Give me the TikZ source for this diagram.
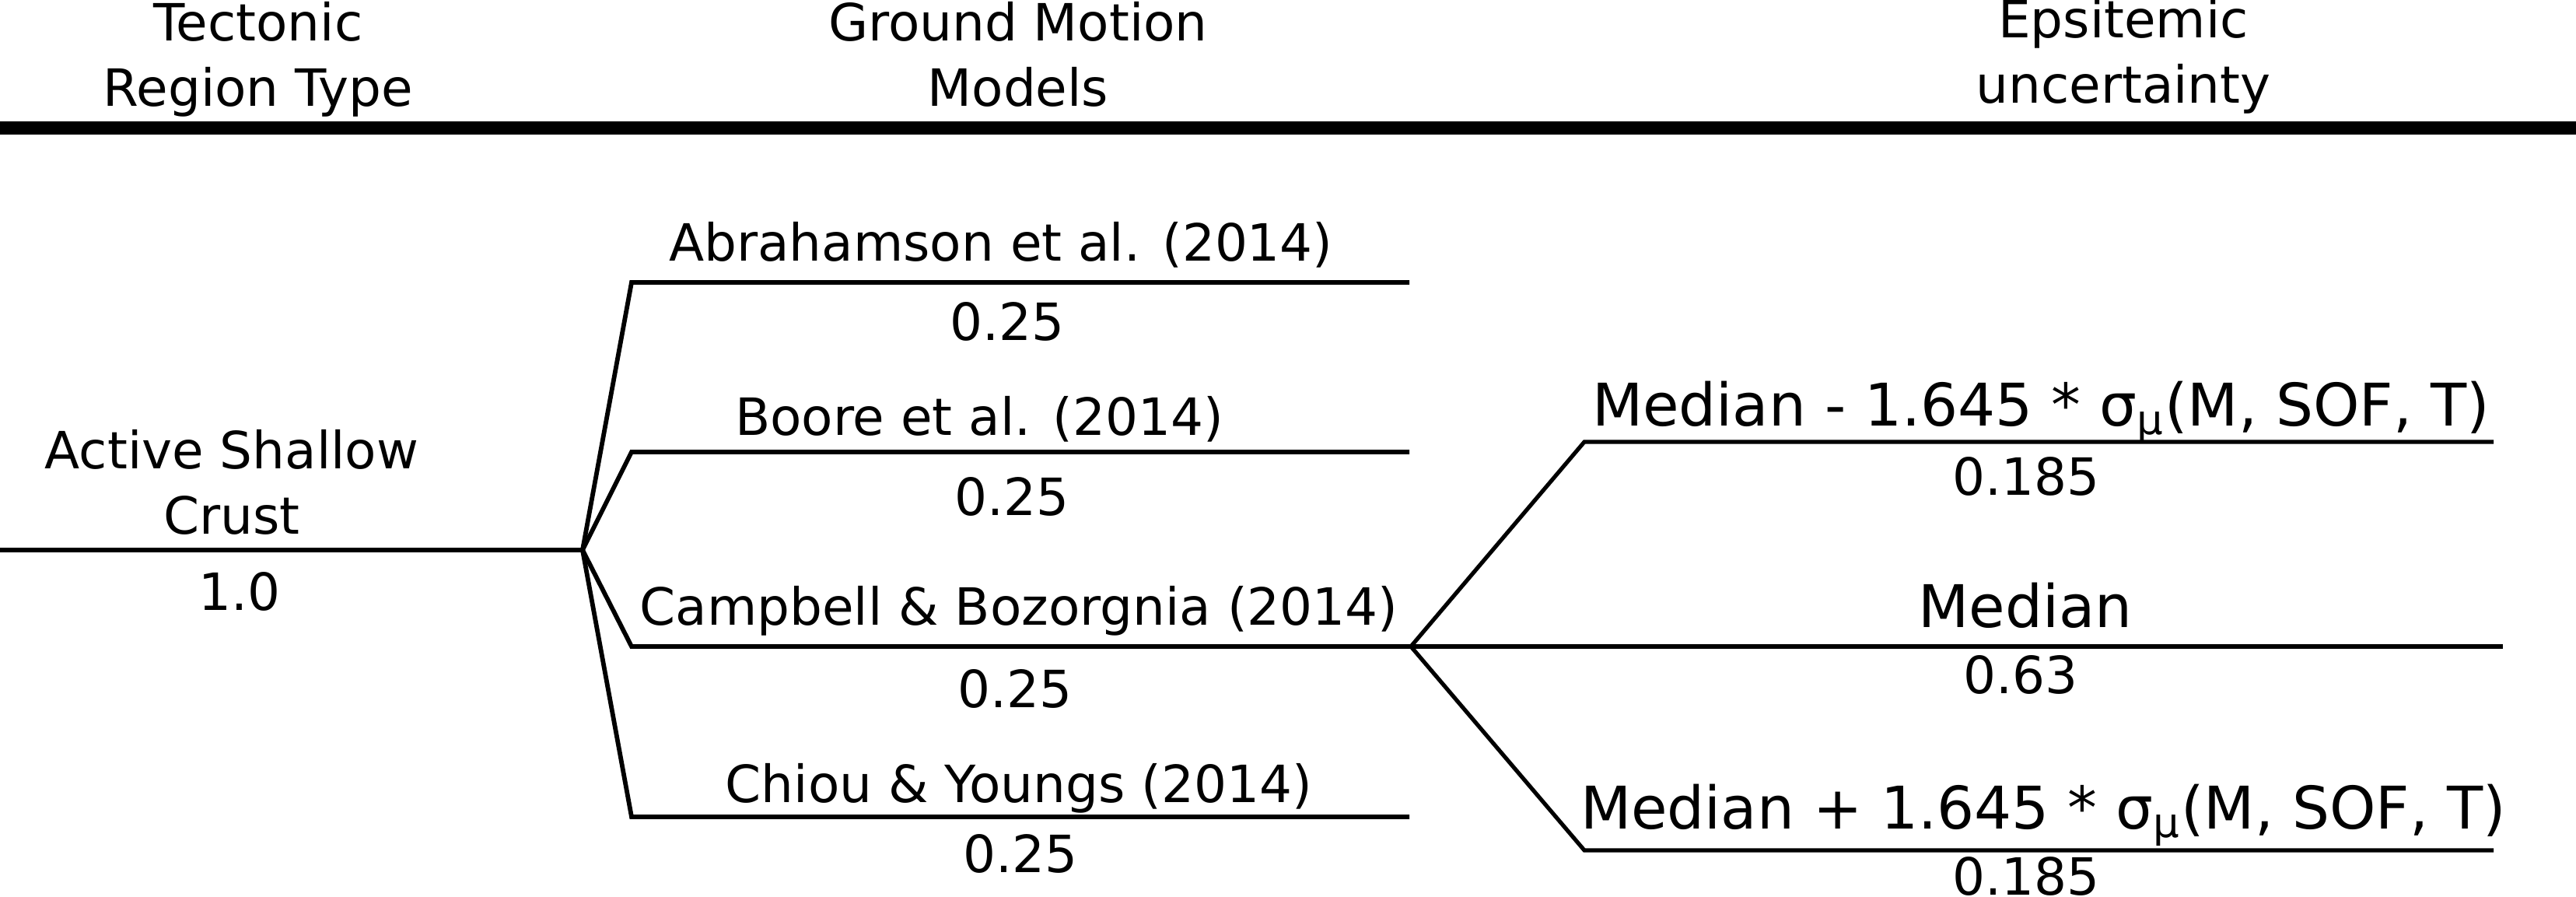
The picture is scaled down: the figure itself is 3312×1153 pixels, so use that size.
\documentclass[tikz,border=0pt]{standalone}
\usepackage{fontspec}
\setmainfont{DejaVu Sans}
\begin{document}
\begin{tikzpicture}[x=0.25pt,y=-0.25pt,
  branch/.style={line width=1.45pt, line join=miter},
  thinbranch/.style={line width=1.3pt, line join=miter},
  rulebar/.style={line width=4.25pt},
  lbl/.style={anchor=base, inner sep=0pt, font=\fontsize{16.5}{21}\selectfont, align=center},
  biglbl/.style={anchor=base, inner sep=0pt, font=\fontsize{18.9}{22}\selectfont},
]
\useasboundingbox (0,0) rectangle (3312,1153);

% header (base anchor = baseline of the last line)
\node[lbl] (h1) at (332,137) {Tectonic\\Region Type};
\node[lbl] (h2) at (1309,137) {Ground Motion\\Models};
\node[lbl] (h3) at (2730,133) {Epsitemic\\uncertainty};
\coordinate (hl) at (0,165);
\coordinate (hr) at (3312,165);
\draw[rulebar] (hl) -- (hr);

% tree coordinates
\coordinate (root) at (0,707);
\coordinate (b1) at (749,707);
\coordinate (g1s) at (812,363);  \coordinate (g1e) at (1812,363);
\coordinate (g2s) at (812,581);  \coordinate (g2e) at (1812,581);
\coordinate (g3s) at (812,831);  \coordinate (b2) at (1814,831);
\coordinate (g4s) at (812,1050); \coordinate (g4e) at (1812,1050);
\coordinate (e1s) at (2037,568);  \coordinate (e1e) at (3206,568);
\coordinate (e2e) at (3218,831);
\coordinate (e3s) at (2037,1093); \coordinate (e3e) at (3206,1093);

\draw[branch] (root) -- (b1);
\draw[branch] (b1) -- (g1s) -- (g1e);
\draw[branch] (b1) -- (g2s) -- (g2e);
\draw[branch] (b1) -- (g3s) -- (b2);
\draw[branch] (b1) -- (g4s) -- (g4e);
\draw[thinbranch] (b2) -- (e1s) -- (e1e);
\draw[thinbranch] (b2) -- (e2e);
\draw[thinbranch] (b2) -- (e3s) -- (e3e);

% labels
\node[lbl] (trt) at (298,687) {Active Shallow\\Crust};
\node[lbl] (trtw) at (308,785) {1.0};

\node[lbl] (m1) at (1287,336) {Abrahamson et al. (2014)};
\node[lbl] (m1w) at (1295,438) {0.25};
\node[lbl] (m2) at (1259,560) {Boore et al. (2014)};
\node[lbl] (m2w) at (1301,663) {0.25};
\node[lbl] (m3) at (1310,804) {Campbell \& Bozorgnia (2014)};
\node[lbl] (m3w) at (1305,910) {0.25};
\node[lbl] (m4) at (1310,1032) {Chiou \& Youngs (2014)};
\node[lbl] (m4w) at (1312,1122) {0.25};

\node[biglbl] (u1) at (2624,548) {Median - 1.645 * σ\textsubscript{μ}(M, SOF, T)};
\node[lbl] (u1w) at (2605,637) {0.185};
\node[biglbl] (u2) at (2604,807) {Median};
\node[lbl] (u2w) at (2598,892) {0.63};
\node[biglbl] (u3) at (2627,1066) {Median + 1.645 * σ\textsubscript{μ}(M, SOF, T)};
\node[lbl] (u3w) at (2605,1151) {0.185};
\end{tikzpicture}
\end{document}
